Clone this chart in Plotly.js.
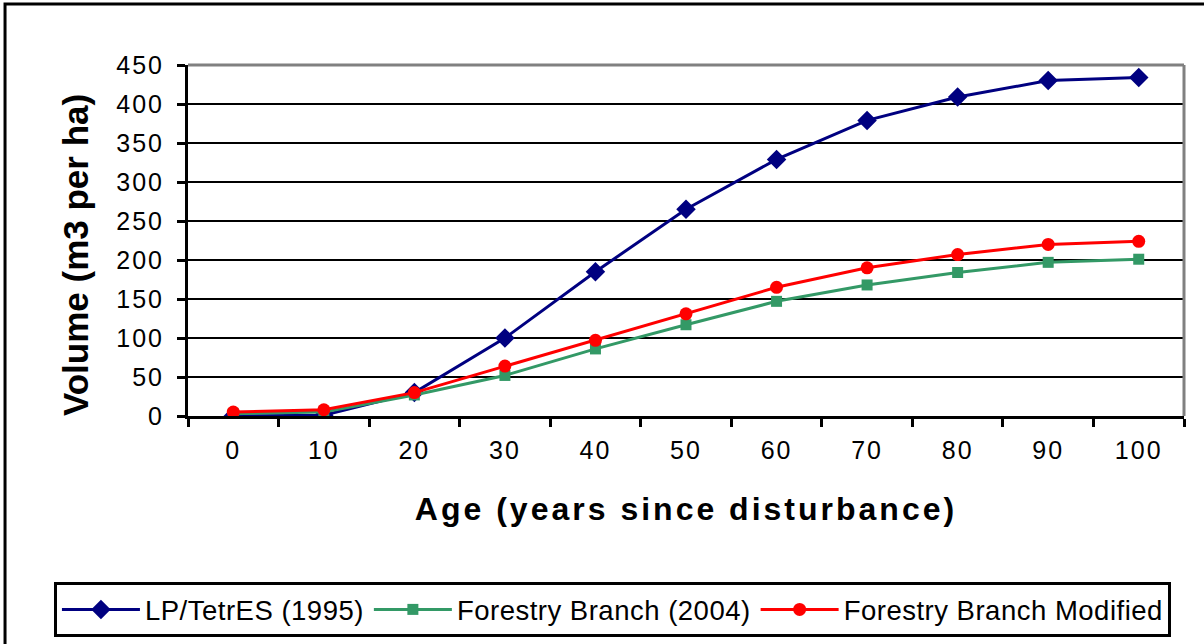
<!DOCTYPE html>
<html>
<head>
<meta charset="utf-8">
<script src="https://cdn.plot.ly/plotly-3.0.1.min.js"></script>
<style>
html,body{margin:0;padding:0;background:#fff;}
#chart{width:1204px;height:644px;}
.xtitle{letter-spacing:3px;}
.xtick text,.ytick text{letter-spacing:2px;}
.legendtext{letter-spacing:0.5px;}
</style>
</head>
<body>
<div id="chart"></div>
<script>
var ages = ['0','10','20','30','40','50','60','70','80','90','100'];
var lpTetres = [0, 1, 30, 100, 185, 265, 329, 379, 409, 430, 434];
var forestryBranch = [3, 5, 27, 52, 86, 117, 147, 168, 184, 197, 201];
var forestryModified = [5, 8, 30, 64, 97, 131, 165, 190, 207, 220, 224];
var seriesNames = ['LP/TetrES (1995)', 'Forestry Branch (2004)', 'Forestry Branch Modified'];
var yTicks = [0, 50, 100, 150, 200, 250, 300, 350, 400, 450];
var xTitle = 'Age (years since disturbance)';
var yTitle = 'Volume (m3 per ha)';

var traces = [
  {x: ages, y: lpTetres, name: seriesNames[0], type: 'scatter', mode: 'lines+markers',
   line: {color: '#000080', width: 3}, marker: {symbol: 'diamond', size: 15, color: '#000080'}},
  {x: ages, y: forestryBranch, name: seriesNames[1], type: 'scatter', mode: 'lines+markers',
   line: {color: '#339966', width: 3}, marker: {symbol: 'square', size: 11, color: '#339966'}},
  {x: ages, y: forestryModified, name: seriesNames[2], type: 'scatter', mode: 'lines+markers',
   line: {color: '#FF0000', width: 3}, marker: {symbol: 'circle', size: 13, color: '#FF0000'}}
];

var layout = {
  width: 1204, height: 644,
  margin: {l: 188, r: 20, t: 65, b: 228, pad: 0, autoexpand: false},
  paper_bgcolor: '#ffffff', plot_bgcolor: '#ffffff',
  font: {family: 'Liberation Sans, Arial, sans-serif', color: '#000'},
  showlegend: true,
  xaxis: {
    type: 'category', range: [-0.5, 10.5], tickson: 'boundaries', showgrid: false, zeroline: false,
    showline: true, linecolor: '#000', linewidth: 3, automargin: false,
    ticks: 'outside', ticklen: 8, tickwidth: 3, tickcolor: '#000',
    tickfont: {size: 25, family: 'Liberation Sans, Arial, sans-serif'},
    ticklabelstandoff: 10,
    title: {text: xTitle, font: {size: 32, family: 'Liberation Sans, Arial, sans-serif', weight: 'bold'}, standoff: 35},
    fixedrange: true
  },
  yaxis: {
    range: [0, 450], tickvals: yTicks, ticktext: yTicks.map(String),
    showgrid: true, gridcolor: '#000', gridwidth: 2.7, zeroline: false,
    showline: true, linecolor: '#000', linewidth: 3, automargin: false,
    ticks: 'outside', ticklen: 8, tickwidth: 3, tickcolor: '#000',
    tickfont: {size: 25, family: 'Liberation Sans, Arial, sans-serif'},
    ticklabelstandoff: 8,
    fixedrange: true
  },
  annotations: [
    {text: yTitle, textangle: -90, xref: 'paper', yref: 'paper', x: -0.1124, y: 0.4587,
     xanchor: 'center', yanchor: 'middle', showarrow: false,
     font: {size: 35, family: 'Liberation Sans, Arial, sans-serif', weight: 'bold', color: '#000'}}
  ],
  legend: {
    orientation: 'h', x: -0.1346, xanchor: 'left', y: -0.473, yanchor: 'top',
    bgcolor: '#fff', bordercolor: '#000', borderwidth: 3,
    font: {size: 27.5, family: 'Liberation Sans, Arial, sans-serif'},
    itemwidth: 78
  },
  shapes: [
    {type: 'line', xref: 'paper', yref: 'paper', x0: 0, x1: 1, y0: 1, y1: 1, line: {color: '#808080', width: 3}},
    {type: 'line', xref: 'paper', yref: 'paper', x0: 1, x1: 1, y0: 0, y1: 1, line: {color: '#808080', width: 3}},
    {type: 'rect', xref: 'paper', yref: 'paper', x0: -0.1837, x1: 1.05, y0: -0.7, y1: 1.1735, line: {color: '#000', width: 3}, layer: 'below'}
  ]
};

Plotly.newPlot('chart', traces, layout, {displayModeBar: false, staticPlot: true});
</script>
</body>
</html>
